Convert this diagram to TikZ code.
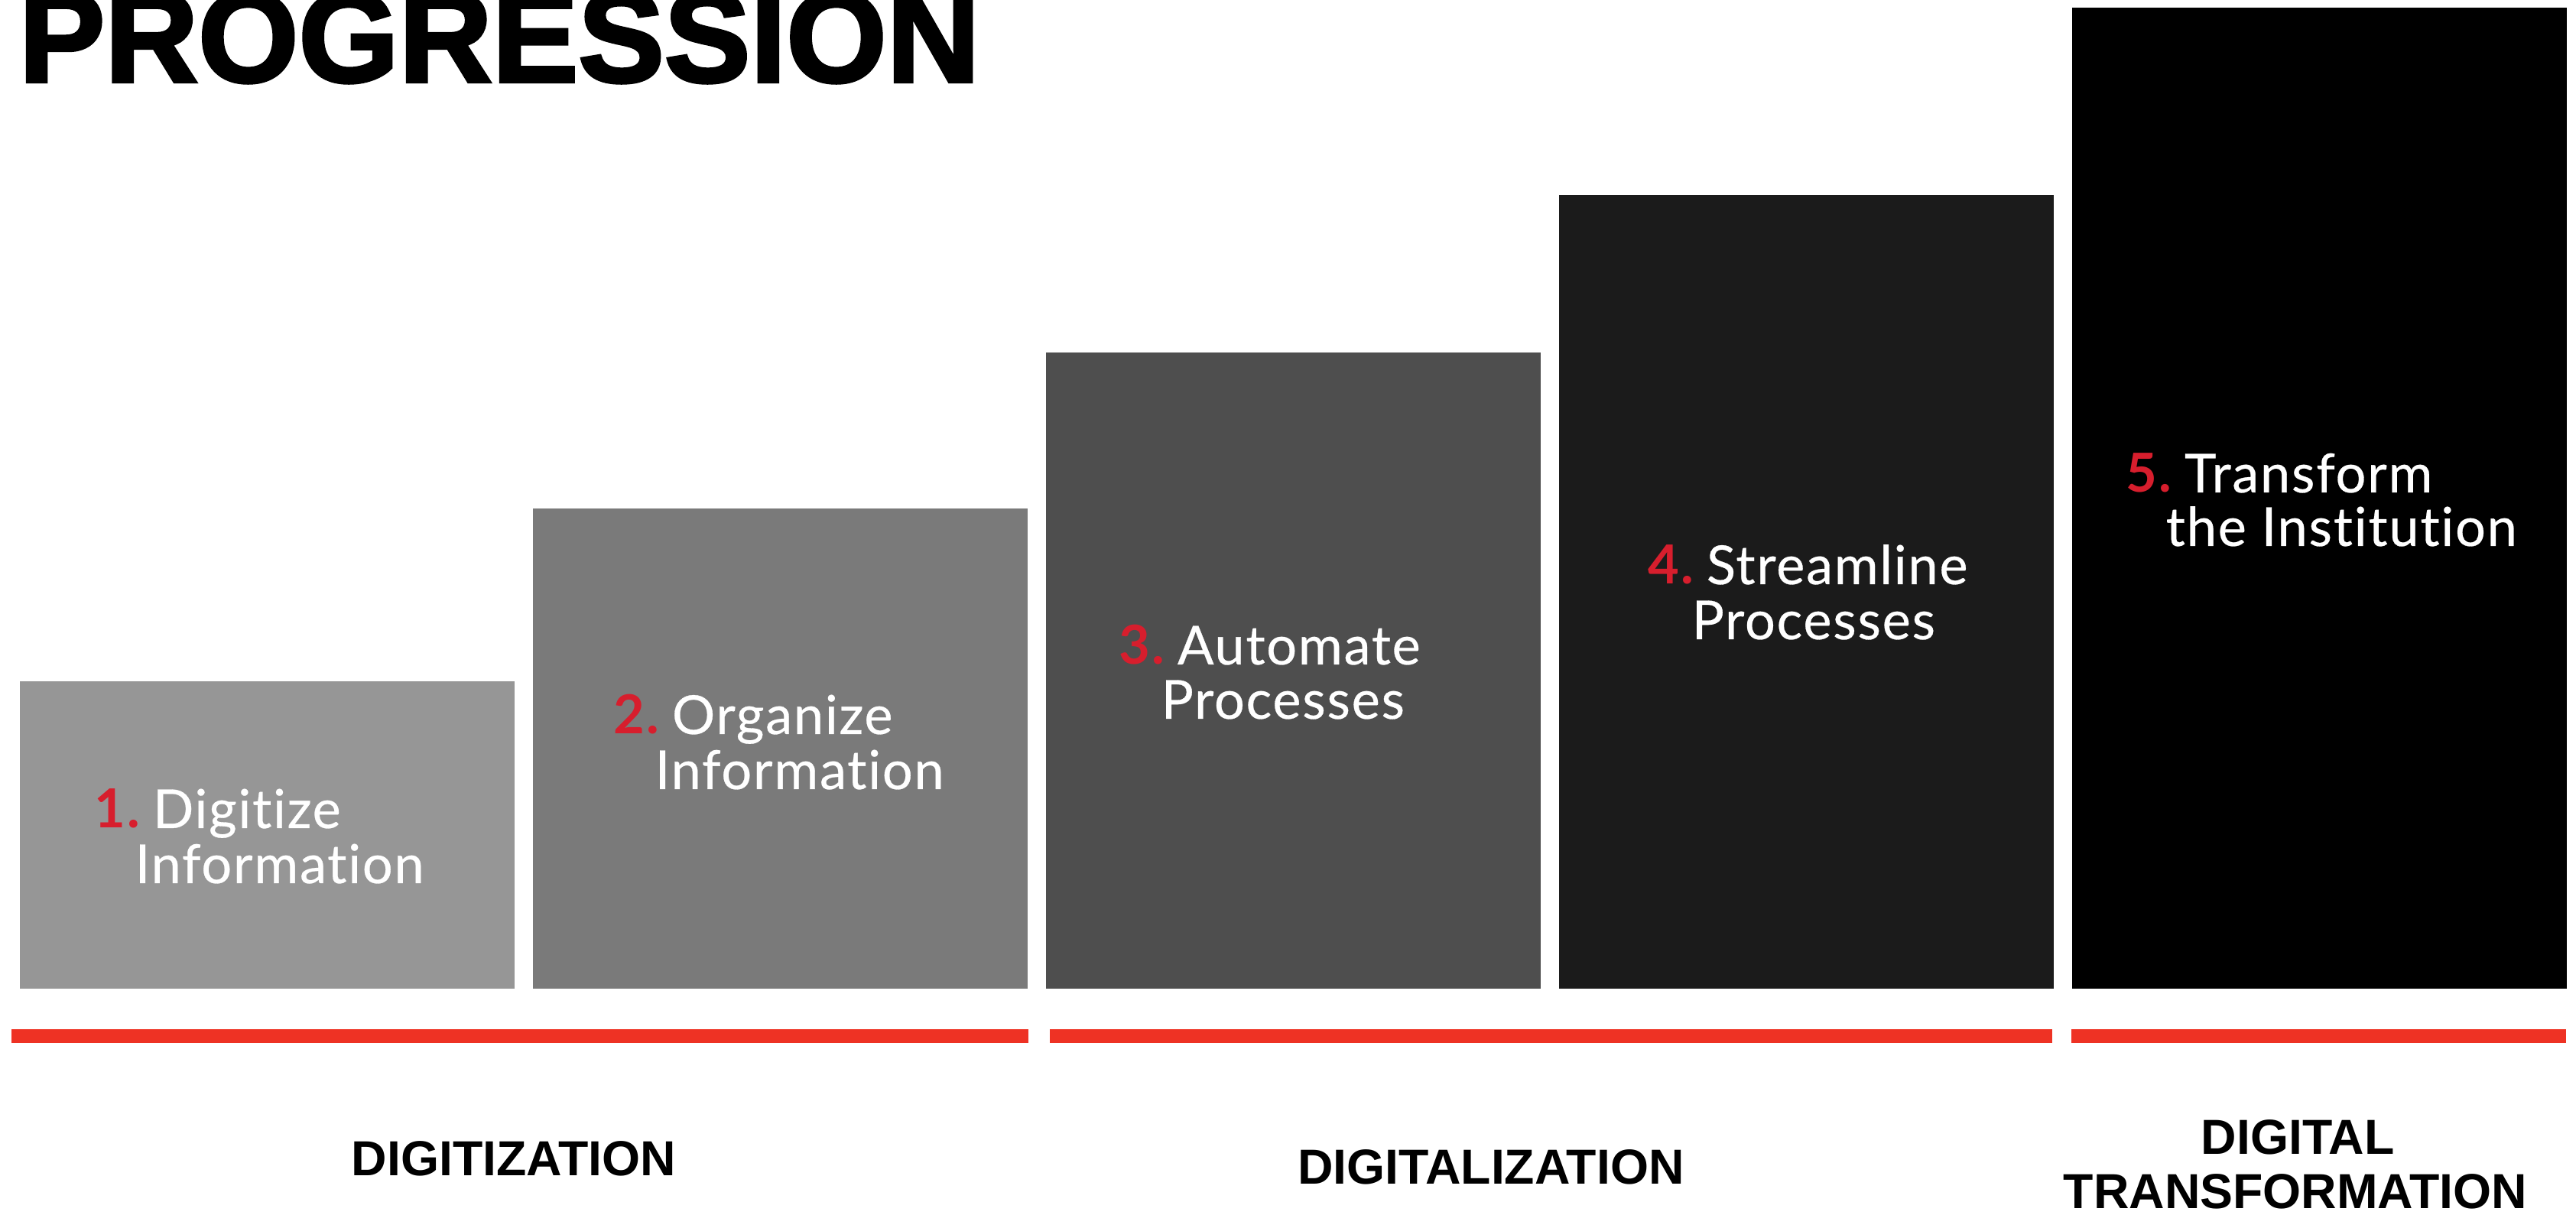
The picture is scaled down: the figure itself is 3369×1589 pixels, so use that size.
\documentclass[tikz,border=0pt]{standalone}
\usepackage{fontspec}
\setmainfont{Lato}[LetterSpace=2.5,FakeBold=0.4,Ligatures={NoCommon},BoldFeatures={FakeBold=0}]
\newfontfamily\headfont{Liberation Sans}
\newfontfamily\titlefont{Liberation Sans Bold}[FakeBold=2.5]
\definecolor{barA}{RGB}{150,150,150}
\definecolor{barB}{RGB}{122,122,122}
\definecolor{barC}{RGB}{78,78,78}
\definecolor{barD}{RGB}{27,27,27}
\definecolor{barE}{RGB}{0,0,0}
\definecolor{lineRed}{RGB}{238,50,36}
\definecolor{numRed}{RGB}{215,30,45}
\tikzset{
  stepbar/.style={anchor=south west, inner sep=0pt, minimum width=6.47cm, draw=none},
  redbar/.style={fill=lineRed, draw=none},
  lbl/.style={anchor=base west, inner sep=0pt, text=white, font=\fontsize{20}{20}\selectfont},
  phase/.style={anchor=base, inner sep=0pt, text=black, font=\headfont\bfseries\fontsize{18.3}{18.3}\selectfont},
}
\newcommand{\num}[1]{{\bfseries\color{numRed}#1}\hspace{0.17cm}}
\begin{document}
\begin{tikzpicture}[x=0.01cm,y=-0.01cm]
\useasboundingbox[fill=white] (0,0) rectangle (3369,1589);
% title
\node[anchor=base west, inner sep=0pt, font=\titlefont\fontsize{48}{48}\selectfont] (title) at (24,107) {PROGRESSION};
% bars
\node[stepbar, fill=barA, minimum height=4.02cm] (b1) at (25,1294) {};
\node[stepbar, fill=barB, minimum height=6.28cm] (b2) at (696,1294) {};
\node[stepbar, fill=barC, minimum height=8.32cm] (b3) at (1367,1294) {};
\node[stepbar, fill=barD, minimum height=10.38cm] (b4) at (2038,1294) {};
\node[stepbar, fill=barE, minimum height=12.83cm] (b5) at (2709,1294) {};
% labels
\node[lbl] (l1a) at (123,1083) {\num{1.}Digitize};
\node[lbl] (l1b) at (176,1155) {Information};
\node[lbl] (l2a) at (802,960) {\num{2.}Organize};
\node[lbl] (l2b) at (856,1032) {Information};
\node[lbl] (l3a) at (1463,869) {\num{3.}Automate};
\node[lbl] (l3b) at (1518,940) {Processes};
\node[lbl] (l4a) at (2155,764) {\num{4.}Streamline};
\node[lbl] (l4b) at (2212,836) {Processes};
\node[lbl] (l5a) at (2780,644) {\num{5.}Transform};
\node[lbl] (l5b) at (2832,714) {the Institution};
% red lines
\fill[redbar] (15,1346) rectangle (1345,1364);
\fill[redbar] (1373,1346) rectangle (2684,1364);
\fill[redbar] (2709,1346) rectangle (3356,1364);
% phase labels
\node[phase] (p1) at (672,1537) {DIGITIZATION};
\node[phase] (p2) at (1950,1548) {DIGITALIZATION};
\node[phase] (p3a) at (3005,1509) {DIGITAL};
\node[phase] (p3b) at (3002,1580) {TRANSFORMATION};
\end{tikzpicture}
\end{document}
